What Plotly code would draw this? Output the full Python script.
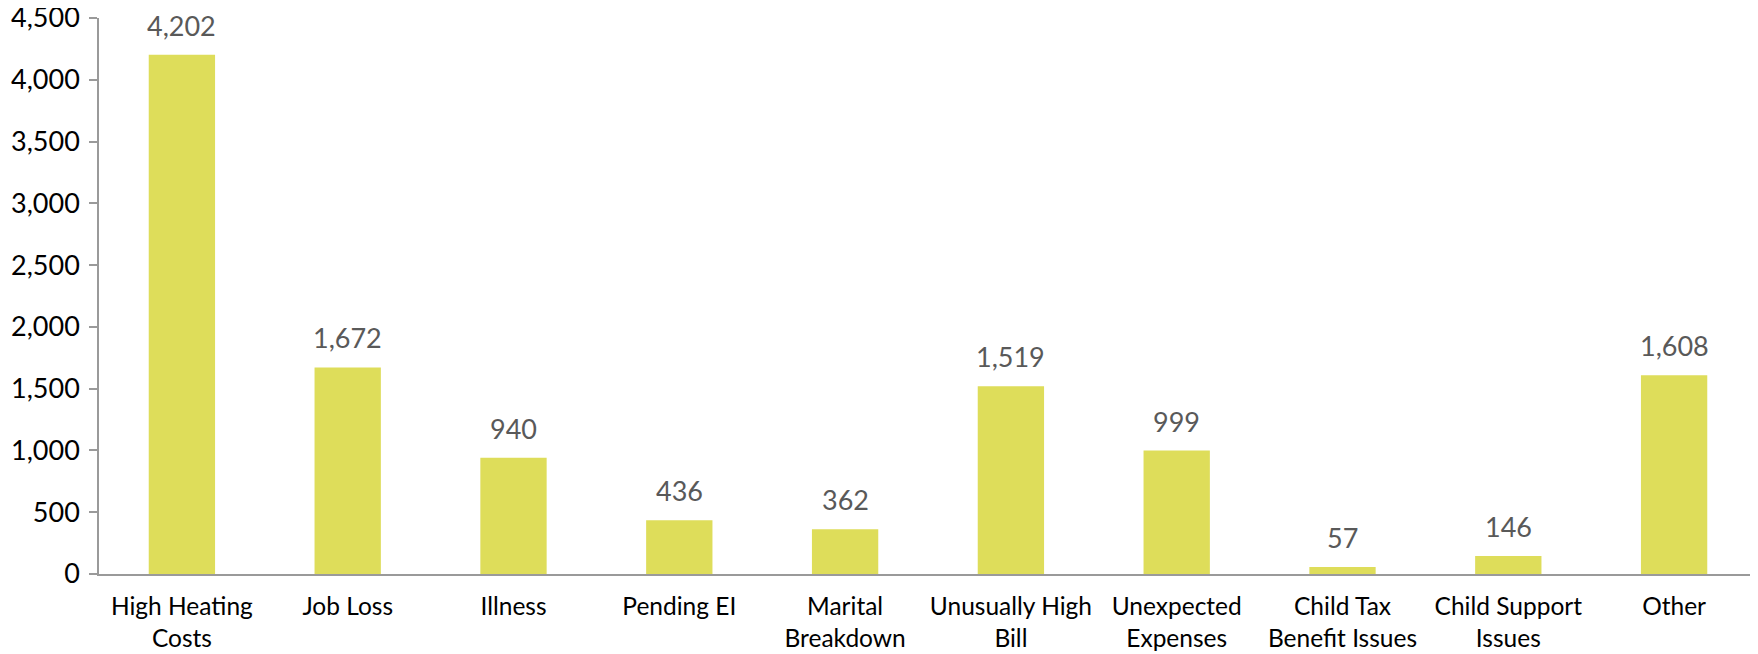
import plotly.graph_objects as go

categories = ["High Heating<br>Costs", "Job Loss", "Illness", "Pending EI", "Marital<br>Breakdown",
              "Unusually High<br>Bill", "Unexpected<br>Expenses", "Child Tax<br>Benefit Issues",
              "Child Support<br>Issues", "Other"]
values = [4202, 1672, 940, 436, 362, 1519, 999, 57, 146, 1608]
y_ticks = [0, 500, 1000, 1500, 2000, 2500, 3000, 3500, 4000, 4500]

FONT = "Lato"
bar_color = "#DEDD5A"

fig = go.Figure(go.Bar(
    x=categories, y=values, marker=dict(color=bar_color, line=dict(width=0)),
    width=0.4,
))

for c, v in zip(categories, values):
    fig.add_annotation(x=c, y=v, text=f"{v:,}", showarrow=False, yanchor="bottom",
                       yshift=11, font=dict(family=FONT, size=27, color="#595959"))

fig.update_layout(
    width=1750, height=646,
    margin=dict(l=91, r=1, t=10, b=80),
    paper_bgcolor="white", plot_bgcolor="white",
    showlegend=False,
    font=dict(family=FONT, size=24, color="#000000"),
    xaxis=dict(showline=True, linecolor="#9a9a9a", linewidth=1.5, ticks="",
               showgrid=False, tickfont=dict(family=FONT, size=24.5, color="#000000"),
               ticklabelstandoff=10, automargin=False),
    yaxis=dict(range=[0, 4500], tickvals=y_ticks, tickformat=",", showline=True,
               linecolor="#9a9a9a", linewidth=1.5, ticks="outside", ticklen=8,
               tickcolor="#9a9a9a", tickwidth=1.5, showgrid=False, zeroline=False,
               ticklabelstandoff=4, automargin=False, ticklabeloverflow="allow",
               tickfont=dict(family=FONT, size=27, color="#000000")),
)

fig.write_html("out.html")
